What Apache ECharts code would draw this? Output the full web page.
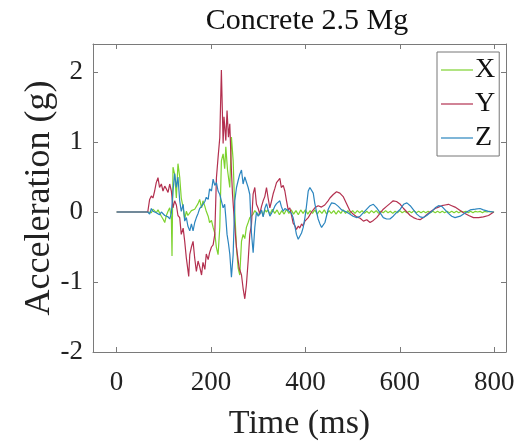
<!DOCTYPE html>
<html>
<head>
<meta charset="utf-8">
<script src="https://cdn.jsdelivr.net/npm/echarts@6/dist/echarts.min.js"></script>
<style>html,body{margin:0;padding:0;background:#fff}#c{width:520px;height:441px}</style>
</head>
<body>
<div id="c"></div>
<script>
const titleText = 'Concrete 2.5 Mg';
const xName = 'Time (ms)';
const yName = 'Acceleration (g)';
const seriesNames = ['X', 'Y', 'Z'];
const xTicks = [0, 200, 400, 600, 800];
const yTicks = [-2, -1, 0, 1, 2];

// [time (ms), acceleration (g)]
const dataX = [[0,0],[66,0],[70,0.01],[73.6,-0.01],[77,0.04],[80.6,0.02],[84,-0.01],[87.7,0.03],[91,0.01],[94.8,-0.06],[98.3,-0.1],[102,-0.15],[105.4,-0.05],[109,0.01],[112.5,0.06],[116,-0.08],[117.4,-0.63],[119.5,0.64],[123,0.54],[126.6,0.2],[130,0.69],[133.7,0.5],[137,0.2],[141,0.06],[144.3,-0.1],[147.8,0.01],[151,-0.05],[155,-0.03],[158.5,0.02],[162,0.0],[165.5,0.04],[169,0.06],[172.6,0.12],[176,0.18],[180,0.06],[183,0.16],[187,0.08],[190,0.01],[194,-0.06],[197,-0.15],[201,-0.12],[204.5,-0.22],[208,-0.3],[211.5,-0.51],[215,-0.61],[218.6,-0.22],[222,0.73],[225.7,0.83],[229,0.62],[231.4,0.93],[235,0.6],[239.8,0.35],[243.3,1.07],[247,0.73],[250.4,0.01],[254,-0.51],[257.5,-0.8],[261,-0.9],[264.6,-0.42],[268,-0.32],[271.6,-0.38],[275,-0.22],[278.7,-0.15],[282.2,-0.08],[285.7,-0.1],[289.3,-0.03],[292.8,0.02],[296.3,0.01],[300,-0.04],[303.4,-0.03],[307,0.02],[310.5,-0.06],[314,0.03],[317.6,0.0],
[320,0.03],[325,-0.03],[330,0.04],[335,-0.02],[340,0.03],[345,-0.04],[350,0.02],[355,-0.03],[360,0.04],[365,-0.02],[370,0.03],[375,-0.03],[380,0.02],[385,-0.04],[390,0.03],[395,-0.02],[400,0.03],[405,-0.03],[410,0.02],[415,-0.02],[420,0.03],[425,-0.03],[430,0.02],[435,-0.02],[440,0.03],[445,-0.03],[450,0.02],[455,-0.02],[460,0.02],[465,-0.03],[470,0.02],[475,-0.02],[480,0.03],[485,-0.02],[490,0.02],[495,-0.02],[500,0.02],[505,-0.02],[510,0.02],[515,-0.01],[520,0.02],[525,-0.02],[530,0.01],[535,-0.02],[540,0.02],[545,-0.01],[550,0.02],[555,-0.02],[560,0.01],[565,-0.01],[570,0.02],[575,-0.01],[580,0.01],[585,-0.02],[590,0.01],[595,-0.01],[600,0.02],[605,-0.01],[610,0.01],[615,-0.01],[620,0.01],[625,-0.01],[630,0.02],[635,-0.01],[640,0.01],[645,-0.01],[650,0.01],[655,-0.01],[660,0.01],[665,-0.01],[670,0.01],[675,-0.01],[680,0.01],[685,-0.01],[690,0.01],[695,-0.01],[700,0.01],[705,-0.01],[710,0.01],[715,-0.01],[720,0.01],[725,-0.01],[730,0.01],[735,0.0],[740,0.01],[745,-0.01],[750,0.01],[755,-0.01],[760,0.01],[765,0.0],[770,0.01],[775,-0.01],[780,0.01],[785,0.0],[790,0.01],[795,0.0],[800,0.0]];

const dataY = [[0,0],[66,0],[70,0.18],[73.6,0.23],[77,0.2],[80.6,0.3],[84,0.42],[87.7,0.49],[91,0.35],[94.8,0.4],[98.3,0.3],[102,0.37],[105.4,0.33],[109,0.28],[112.5,0.4],[116,0.3],[119.5,0.06],[123,0.16],[126.6,0.1],[130,-0.05],[133.7,-0.08],[137,-0.32],[141,-0.23],[144.3,-0.42],[147.8,-0.66],[152.8,-0.92],[155,-0.61],[158.5,-0.5],[162,-0.42],[165.5,-0.66],[169,-0.85],[172.6,-0.7],[176,-0.78],[180,-0.9],[183,-0.72],[187,-0.82],[190,-0.6],[194,-0.68],[197,-0.58],[201,-0.5],[204.5,-0.47],[208,-0.32],[211.5,0.49],[215,0.78],[218.6,1.06],[222,2.03],[225.7,0.98],[227.5,1.36],[231.4,1.02],[234,1.45],[237,1.07],[239.8,1.26],[243.3,0.59],[245.5,0.26],[250.4,-0.22],[254,-0.51],[259.6,-0.8],[264.6,-0.9],[268,-1.09],[271.6,-1.24],[275,-1.04],[278.7,-0.7],[282.2,-0.32],[285.7,-0.18],[289.3,0.26],[292.8,0.35],[296.3,0.11],[300,0.05],[303.4,-0.03],[307,0.08],[310.5,0.16],[314,0.22],[317.6,0.35],[321,0.2],[324.7,0.06],[328,0.15],[331.7,0.26],[335,0.33],[338.8,0.42],[342,0.4],[345.9,0.48],[349,0.35],[353,0.38],[356.5,0.3],[360,0.16],[363.6,0.03],[367,0.06],[371,-0.06],[374,-0.16],[378,-0.2],[381,-0.25],[385,-0.2],[388,-0.23],[392,-0.17],[395,-0.2],[399,-0.13],[402,-0.15],[406,-0.08],[410,-0.06],[413,0.0],[417,0.02],[420,0.06],[424,0.04],[427,0.09],[431,0.11],[434,0.07],[438,0.06],[441,0.1],[445,0.11],[448,0.16],[452,0.2],[459,0.25],[466,0.29],[473,0.27],[480,0.22],[487,0.12],[494,0.02],[501,-0.03],[509,-0.07],[516,-0.09],[523,-0.13],[530,-0.11],[537,-0.15],[544,-0.12],[551,-0.08],[558,-0.02],[565,0.04],[572,0.08],[579,0.12],[586,0.16],[593,0.15],[601,0.11],[608,0.05],[615,0.0],[622,-0.05],[629,-0.08],[636,-0.1],[643,-0.11],[650,-0.08],[657,-0.04],[664,0.0],[675,0.05],[682,0.07],[689,0.09],[696,0.1],[703,0.11],[710,0.09],[717,0.07],[724,0.04],[735,-0.01],[746,-0.05],[756,-0.08],[767,-0.08],[777,-0.07],[788,-0.05],[799,0.0]];

const dataZ = [[0,0],[66,0],[70,-0.03],[73.6,0.05],[77,0.01],[80.6,0.03],[84,-0.01],[87.7,0.0],[91,-0.04],[94.8,0.0],[98.3,-0.01],[102,-0.05],[105.4,-0.03],[109,-0.07],[112.5,-0.1],[116,-0.02],[119.5,0.3],[123,0.55],[126.6,0.35],[130,0.5],[133.7,0.16],[137,0.01],[141,0.11],[144.3,-0.13],[147.8,-0.08],[151,-0.2],[155,-0.27],[158.5,-0.17],[162,-0.27],[165.5,-0.15],[169,-0.08],[172.6,-0.02],[176,0.05],[180,0.08],[183,0.11],[187,0.15],[190,0.21],[194,0.18],[197,0.33],[201,0.3],[204.5,0.47],[208,0.38],[211.5,0.42],[215,0.3],[218.6,0.25],[222,0.16],[225.7,0.06],[229,0.11],[231.4,-0.08],[234,-0.32],[237,-0.45],[239.8,-0.6],[243.3,-0.93],[246.9,-0.61],[250.4,0.16],[254,0.35],[257.5,0.45],[261,0.54],[264.6,0.6],[268,0.4],[271.6,0.5],[275,0.48],[278.7,0.35],[282.2,0.25],[285.7,-0.3],[289.3,-0.58],[292.8,-0.22],[296.3,0.0],[300,-0.06],[303.4,-0.03],[307,0.03],[310.5,-0.07],[314,0.05],[317.6,0.12],[321,0.03],[324.7,-0.06],[328,-0.02],[331.8,0.03],[335,0.08],[338.8,0.12],[342,0.1],[345.9,0.16],[349,0.08],[353,0.01],[356.5,0.05],[360,0.06],[363.6,0.02],[367,0.04],[370.6,-0.02],[374,-0.08],[377.7,-0.2],[381,-0.32],[384.8,-0.39],[388,-0.37],[391.8,-0.3],[395.4,-0.22],[399,-0.08],[402,0.07],[406,0.3],[409.5,0.35],[413,0.37],[416.6,0.27],[420,0.12],[423.7,0.0],[427,-0.1],[430.8,-0.17],[434.3,-0.22],[438,-0.2],[441.4,-0.15],[445,-0.05],[448.4,0.04],[452,0.09],[455.5,0.13],[459,0.13],[462.6,0.12],[466,0.1],[469.7,0.08],[473,0.06],[476.7,0.03],[480,0.02],[487,0.0],[494,-0.03],[501,-0.06],[509,-0.08],[516,-0.06],[523,-0.01],[530,0.04],[537,0.09],[544,0.11],[551,0.06],[558,-0.01],[565,-0.08],[572,-0.1],[579,-0.1],[586,-0.06],[593,-0.01],[601,0.04],[608,0.11],[615,0.13],[622,0.09],[629,0.03],[636,-0.03],[643,-0.07],[650,-0.08],[657,-0.05],[668,0.01],[675,0.06],[682,0.09],[689,0.08],[696,0.03],[703,-0.02],[710,-0.06],[717,-0.08],[728,-0.06],[739,-0.01],[749,0.03],[760,0.04],[770,0.05],[777,0.03],[788,0.01],[799,0.0]];

const colors = ['#7dd22e', '#b3304f', '#2b85bf'];
const FONT = "'Liberation Serif', 'Times New Roman', 'DejaVu Serif', serif";
const axisGray = '#7a7a7a';

const chart = echarts.init(document.getElementById('c'), null, {renderer: 'canvas'});

function xAx(pos, show) {
  return {
    type: 'value', position: pos, min: -50, max: 825,
    axisLine: {show: true, onZero: false, lineStyle: {color: axisGray, width: 1}},
    axisTick: {show: true, inside: true, length: 5, customValues: xTicks, lineStyle: {color: axisGray}},
    axisLabel: {show: show, customValues: xTicks, fontFamily: FONT, fontSize: 27, color: '#222', margin: 17},
    splitLine: {show: false},
    name: show ? xName : '', nameLocation: 'middle', nameGap: 55, nameMoveOverlap: false,
    nameTextStyle: {fontFamily: FONT, fontSize: 34, color: '#222'}
  };
}
function yAx(pos, show) {
  return {
    type: 'value', position: pos, min: -2, max: 2.4,
    axisLine: {show: true, onZero: false, lineStyle: {color: axisGray, width: 1}},
    axisTick: {show: true, inside: true, length: 5, customValues: yTicks, lineStyle: {color: axisGray}},
    axisLabel: {show: show, customValues: yTicks, fontFamily: FONT, fontSize: 27, color: '#222', margin: 10},
    splitLine: {show: false},
    name: show ? yName : '', nameLocation: 'middle', nameGap: 35, nameMoveOverlap: false,
    nameTextStyle: {fontFamily: FONT, fontSize: 36, color: '#222'}
  };
}

const datasets = [dataX, dataY, dataZ];
chart.setOption({
  animation: false,
  backgroundColor: '#fff',
  title: {
    text: titleText, left: 302, top: 1, textAlign: 'center',
    textStyle: {fontFamily: FONT, fontSize: 30, fontWeight: 'normal', color: '#111'}
  },
  grid: {left: 93, right: 14, top: 44, bottom: 89, show: false, containLabel: false, outerBoundsMode: 'none'},
  legend: {
    data: seriesNames, orient: 'vertical', left: 437, top: 52,
    padding: [4, 4, 4, 4], itemGap: 6, itemWidth: 32, itemHeight: 14,
    icon: 'path://M0,0h32v1.2h-32z',
    borderColor: '#777', borderWidth: 1, backgroundColor: '#fff',
    textStyle: {fontFamily: FONT, fontSize: 28, color: '#111', padding: [0, 0, 0, -3]}
  },
  xAxis: [xAx('bottom', true), xAx('top', false)],
  yAxis: [yAx('left', true), yAx('right', false)],
  series: seriesNames.map((n, i) => ({
    name: n, type: 'line', data: datasets[i], xAxisIndex: 0, yAxisIndex: 0,
    symbol: 'none', showSymbol: false,
    lineStyle: {color: colors[i], width: 1.2}, itemStyle: {color: colors[i]},
    z: 2 + i
  }))
});
</script>
</body>
</html>
